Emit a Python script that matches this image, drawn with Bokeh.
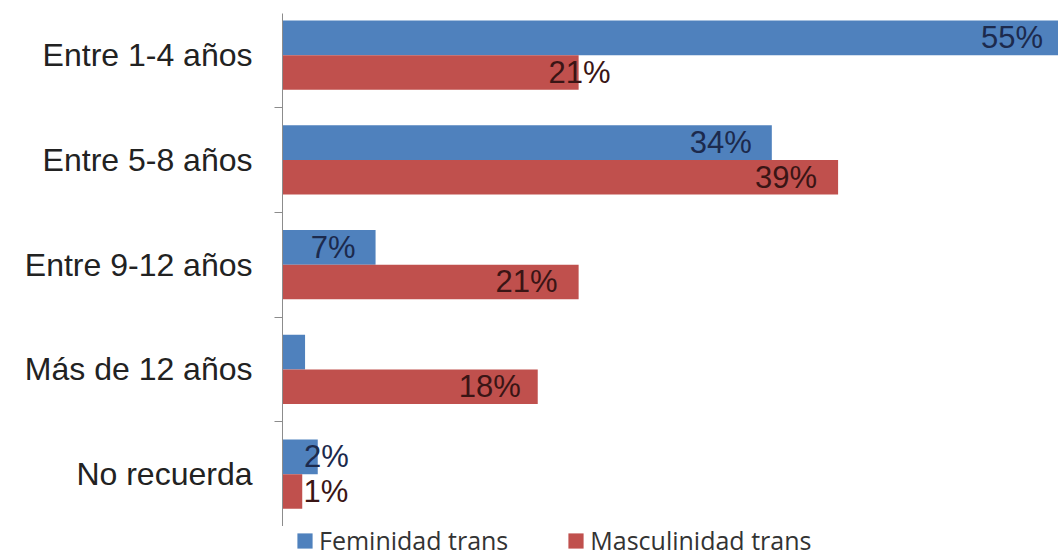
from bokeh.plotting import figure
from bokeh.layouts import column
from bokeh.models import ColumnDataSource, Range1d, FixedTicker, Legend, LegendItem
from bokeh.core.properties import value
from bokeh.embed import file_html
from bokeh.resources import INLINE
import numpy as np

categories = ["Entre 1-4 años", "Entre 5-8 años", "Entre 9-12 años", "Más de 12 años", "No recuerda"]
series_names = ["Feminidad trans", "Masculinidad trans"]
feminidad = [55.0, 34.7, 6.6, 1.6, 2.5]
masculinidad = [21.0, 39.4, 21.0, 18.1, 1.4]
feminidad_labels = ["55%", "34%", "7%", "", "2%"]
masculinidad_labels = ["21%", "39%", "21%", "18%", "1%"]

# label nudges in screen pixels (style, not data)
fem_nudge = [-15, -20, -20, 0, 31]
masc_nudge = [32, -21, -21, -17, 46]

BLUE = "#4F81BD"
RED = "#C0504D"

idx = np.arange(len(categories))
centers = idx + 0.5
bar_h = 0.33

src_f = ColumnDataSource(dict(y=centers - bar_h / 2, x=feminidad, lab=feminidad_labels, dx=fem_nudge))
src_m = ColumnDataSource(dict(y=centers + bar_h / 2, x=masculinidad, lab=masculinidad_labels, dx=masc_nudge))

p = figure(width=1058, height=526, output_backend="svg", toolbar_location=None,
           x_range=Range1d(0, 55.03), y_range=Range1d(start=5, end=0.102),
           x_axis_location=None, min_border_left=282, min_border_right=0,
           min_border_top=13, min_border_bottom=0)
p.outline_line_color = None
p.xgrid.visible = False
p.ygrid.visible = False
p.background_fill_color = "white"

rf = p.hbar(y="y", right="x", left=0, height=bar_h, source=src_f, fill_color=BLUE, line_color=None)
rm = p.hbar(y="y", right="x", left=0, height=bar_h, source=src_m, fill_color=RED, line_color=None)

p.text(x="x", y="y", text="lab", x_offset="dx", source=src_f, text_align="right",
       text_baseline="middle", text_font=value("Liberation Sans"), text_font_size="31px",
       text_color="#1c2a4d")
p.text(x="x", y="y", text="lab", x_offset="dx", source=src_m, text_align="right",
       text_baseline="middle", text_font=value("Liberation Sans"), text_font_size="31px",
       text_color="#3a1515")

ax = p.yaxis[0]
ax.ticker = FixedTicker(ticks=list(centers), minor_ticks=list(idx + 1.0))
ax.major_label_overrides = {float(c): cat for c, cat in zip(centers, categories)}
ax.major_tick_line_color = None
ax.major_tick_out = 0
ax.major_tick_in = 0
ax.minor_tick_out = 8
ax.minor_tick_in = 0
ax.minor_tick_line_color = "#8c8c8c"
ax.axis_line_color = "#8c8c8c"
ax.major_label_standoff = 22
ax.major_label_text_font = "Liberation Sans"
ax.major_label_text_font_size = "32px"
ax.major_label_text_color = "#222222"

# legend strip below the chart (its frame is aligned with the chart's frame)
lg = figure(width=1058, height=30, output_backend="svg", toolbar_location=None,
            x_range=Range1d(0, 1), y_range=Range1d(0, 1),
            x_axis_location=None, y_axis_location=None, min_border=0)
lg.outline_line_color = None
lg.xgrid.visible = False
lg.ygrid.visible = False
# keys drawn outside the visible y range so only their legend swatches show
df = lg.hbar(y=[-10], right=[1], height=0.5, fill_color=BLUE, line_color=None)
dm = lg.hbar(y=[-10], right=[1], height=0.5, fill_color=RED, line_color=None)
legend = Legend(items=[LegendItem(label=series_names[0], renderers=[df]),
                       LegendItem(label=series_names[1], renderers=[dm])],
                orientation="horizontal", location=(13, -1), padding=0, margin=0,
                spacing=58, glyph_width=19, glyph_height=19, label_standoff=5,
                label_text_font="Open Sans", label_text_font_size="25px",
                label_text_color="#333333", border_line_color=None,
                background_fill_alpha=0)
lg.add_layout(legend)

layout = column(p, lg, spacing=0)
open("out.html", "w").write(file_html(layout, INLINE))
